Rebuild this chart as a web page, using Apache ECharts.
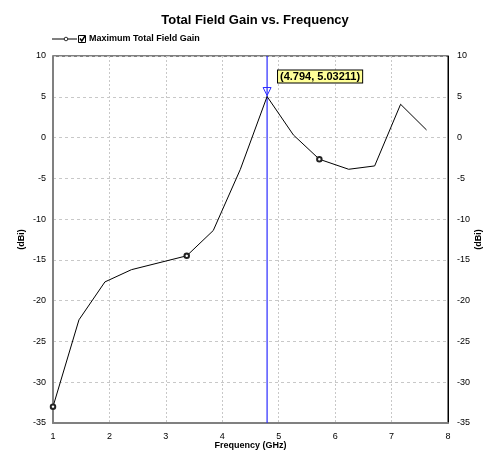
<!DOCTYPE html>
<html><head><meta charset="utf-8">
<script src="https://cdn.jsdelivr.net/npm/echarts@6/dist/echarts.min.js"></script>
<style>html,body{margin:0;padding:0;background:#fff}#c{width:490px;height:454px}</style>
</head><body><div id="c"></div>
<script>
const freq = [1.0, 1.46, 1.92, 2.39, 3.37, 3.84, 4.32, 4.794, 5.26, 5.72, 6.24, 6.70, 7.16, 7.62];
const gain = [-33.0, -22.35, -17.7, -16.2, -14.5, -11.4, -3.9, 5.03211, 0.32, -2.66, -3.89, -3.48, 4.08, 0.93];
const markedIdx = [0, 4, 9];
const peakIdx = 7;
const seriesName = 'Maximum Total Field Gain';
const yMin = -35, yMax = 10;

const font = 'Liberation Sans, Arial, sans-serif';
const blue = '#2a2aff';
const chart = echarts.init(document.getElementById('c'));
const data = freq.map((f, i) => ({value: [f, gain[i]], symbol: markedIdx.includes(i) ? 'emptyCircle' : 'none'}));
const peak = [freq[peakIdx], gain[peakIdx]];

chart.setOption({
  animation: false,
  title: {text: 'Total Field Gain vs. Frequency', left: 250, textAlign: 'center', top: 9,
    textStyle: {fontFamily: font, fontSize: 13, fontWeight: 'bold', color: '#000'}},
  graphic: [
    {type: 'line', shape: {x1: 52, y1: 39, x2: 77, y2: 39}, style: {stroke: '#000', lineWidth: 1}},
    {type: 'circle', shape: {cx: 66, cy: 39, r: 1.8}, style: {fill: '#fff', stroke: '#000', lineWidth: 0.8}},
    {type: 'rect', shape: {x: 78.5, y: 35.5, width: 7, height: 7}, style: {fill: '#fff', stroke: '#000', lineWidth: 1}},
    {type: 'polyline', shape: {points: [[80, 38.5], [81.8, 41], [85, 36]]}, style: {stroke: '#000', lineWidth: 1.4, fill: null}},
    {type: 'text', x: 89, y: 39, style: {text: seriesName, fontFamily: font, fontSize: 9, fontWeight: 'bold', fill: '#000', verticalAlign: 'middle'}}
  ],
  grid: {left: 53, right: 42, top: 56, bottom: 31, show: true, borderColor: '#000', borderWidth: 1, outerBoundsMode: 'none', containLabel: false},
  xAxis: {type: 'value', min: 1, max: 8, interval: 1, name: 'Frequency (GHz)', nameLocation: 'middle', nameGap: 18, nameMoveOverlap: false,
    nameTextStyle: {fontFamily: font, fontSize: 9, fontWeight: 'bold', color: '#000'},
    axisLine: {show: true, onZero: false, lineStyle: {color: '#808080', width: 2}}, axisTick: {show: false},
    axisLabel: {fontFamily: font, fontSize: 9, color: '#000', margin: 9},
    splitLine: {show: true, lineStyle: {color: '#c8c8c8', type: [2, 2]}}},
  yAxis: [
    {type: 'value', min: yMin, max: yMax, interval: 5, name: '(dBi)', nameLocation: 'middle', nameGap: 27, nameRotate: 90, nameMoveOverlap: false,
      nameTextStyle: {fontFamily: font, fontSize: 9, fontWeight: 'bold', color: '#000'},
      axisLine: {show: true, onZero: false, lineStyle: {color: '#808080', width: 2}}, axisTick: {show: false},
      axisLabel: {fontFamily: font, fontSize: 9, color: '#000', margin: 7},
      splitLine: {show: true, lineStyle: {color: '#c8c8c8', type: [3, 3]}}},
    {type: 'value', position: 'right', min: yMin, max: yMax, interval: 5, name: '(dBi)', nameLocation: 'middle', nameGap: 26, nameRotate: 90, nameMoveOverlap: false,
      nameTextStyle: {fontFamily: font, fontSize: 9, fontWeight: 'bold', color: '#000'},
      axisLine: {show: true, lineStyle: {color: '#000', width: 1}}, axisTick: {show: false},
      axisLabel: {fontFamily: font, fontSize: 9, color: '#000', margin: 9},
      splitLine: {show: false}}
  ],
  series: [
    {
      name: 'cursor', type: 'line', data: [[peak[0], yMin], [peak[0], yMax]], symbol: 'none', silent: true,
      lineStyle: {color: blue, width: 1.2}, z: 1
    },
    {
      name: seriesName, type: 'line', data: data, symbolSize: 4.5, showAllSymbol: true, z: 2,
      lineStyle: {color: '#000', width: 1}, itemStyle: {color: '#222', borderWidth: 0.6},
      markPoint: {silent: true, data: [
        {coord: peak, symbol: 'triangle', symbolRotate: 180, symbolSize: [8, 8], symbolOffset: [0, -5],
          itemStyle: {color: 'rgba(0,0,0,0)', borderColor: blue, borderWidth: 1}, label: {show: false}},
        {coord: peak, symbol: 'rect', symbolSize: 0,
          label: {show: true, position: 'inside', offset: [53, -20],
            formatter: '(' + peak[0] + ', ' + peak[1] + ')',
            fontFamily: font, fontSize: 11, fontWeight: 'bold', color: '#000',
            backgroundColor: '#ffff99', borderColor: '#000', borderWidth: 1, padding: [1, 2, 0, 2]}}
      ]}
    }
  ]
});
</script></body></html>
